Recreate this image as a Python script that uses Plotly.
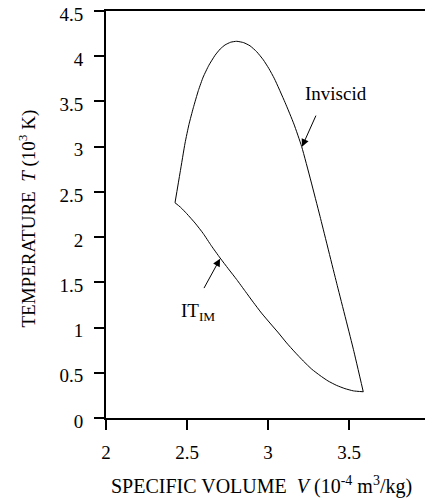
import plotly.graph_objects as go

# Inviscid curve (upper branch), V in 1e-4 m^3/kg, T in 1e3 K
inviscid_v = [2.426, 2.457, 2.488, 2.512, 2.539, 2.570, 2.600, 2.635, 2.673, 2.705,
              2.735, 2.770, 2.807, 2.850, 2.889, 2.930, 2.971, 3.005, 3.040, 3.105,
              3.160, 3.208, 3.265, 3.321, 3.424, 3.527, 3.588]
inviscid_t = [2.38, 2.71, 3.04, 3.245, 3.43, 3.62, 3.77, 3.90, 4.01, 4.08,
              4.125, 4.155, 4.165, 4.15, 4.115, 4.05, 3.96, 3.865, 3.75, 3.49,
              3.25, 3.00, 2.62, 2.23, 1.49, 0.76, 0.29]

# IT_IM curve (lower branch)
itim_v = [2.426, 2.460, 2.498, 2.550, 2.600, 2.650, 2.704, 2.755, 2.807, 2.860,
          2.909, 2.960, 3.012, 3.065, 3.115, 3.165, 3.218, 3.270, 3.321, 3.370,
          3.424, 3.475, 3.527, 3.588]
itim_t = [2.38, 2.33, 2.26, 2.155, 2.04, 1.905, 1.77, 1.65, 1.53, 1.40,
          1.28, 1.16, 1.05, 0.94, 0.83, 0.73, 0.63, 0.54, 0.47, 0.41,
          0.36, 0.325, 0.30, 0.29]

x_ticks = [2, 2.5, 3, 3.5, 4]
x_tick_labels = ["2", "2.5", "3", "3.5", "4"]
y_ticks = [0, 0.5, 1, 1.5, 2, 2.5, 3, 3.5, 4, 4.5]
y_tick_labels = ["0", "0.5", "1", "1.5", "2", "2.5", "3", "3.5", "4", "4.5"]

FONT = "Liberation Serif, Times New Roman, serif"

fig = go.Figure()
fig.add_trace(go.Scatter(x=inviscid_v, y=inviscid_t, mode="lines",
                         line=dict(color="black", width=1, shape="spline", smoothing=0.5),
                         showlegend=False, hoverinfo="skip"))
fig.add_trace(go.Scatter(x=itim_v, y=itim_t, mode="lines",
                         line=dict(color="black", width=1, shape="spline", smoothing=0.5),
                         showlegend=False, hoverinfo="skip"))

# Labels and arrows
fig.add_annotation(x=3.42, y=3.59, text="Inviscid", showarrow=False,
                   font=dict(family=FONT, size=19, color="black"))
fig.add_annotation(x=3.21, y=3.0, ax=3.30, ay=3.36, axref="x", ayref="y",
                   text="", showarrow=True, arrowhead=2, arrowsize=1.5,
                   arrowwidth=1, arrowcolor="black")
fig.add_annotation(x=2.57, y=1.17, text="IT<sub>IM</sub>", showarrow=False,
                   font=dict(family=FONT, size=19, color="black"))
fig.add_annotation(x=2.704, y=1.76, ax=2.60, ay=1.42, axref="x", ayref="y",
                   text="", showarrow=True, arrowhead=2, arrowsize=1.5,
                   arrowwidth=1, arrowcolor="black")

# Axis titles
fig.add_annotation(xref="paper", yref="paper", x=0.48, y=-0.165, yanchor="middle",
                   text="SPECIFIC VOLUME\u00a0\u00a0<i>V</i>\u00a0(10<sup>-4</sup> m<sup>3</sup>/kg)",
                   showarrow=False, font=dict(family=FONT, size=20, color="black"))
fig.add_annotation(xref="paper", yref="paper", x=-0.241, y=0.49, xanchor="center",
                   textangle=-90,
                   text="TEMPERATURE\u00a0\u00a0<i>T</i>\u00a0(10<sup>3</sup> K)",
                   showarrow=False, font=dict(family=FONT, size=19, color="black"))

axis_common = dict(showgrid=False, zeroline=False, showline=True, linecolor="black",
                   linewidth=2, mirror=True, ticks="outside", ticklen=10, tickwidth=1.5,
                   tickcolor="black", ticklabeloverflow="allow", automargin=False,
                   tickfont=dict(family=FONT, size=19, color="black"))

fig.update_xaxes(range=[2, 4], tickvals=x_ticks, ticktext=x_tick_labels,
                 ticklabelstandoff=6, **axis_common)
fig.update_yaxes(range=[0, 4.5], tickvals=y_ticks, ticktext=y_tick_labels,
                 ticklabelstandoff=7, ticklabelshift=3, **axis_common)

# page body has an 8px margin, so the figure is sized to fit the 433x500 window
fig.update_layout(width=425, height=492,
                  margin=dict(l=98, r=3, t=3, b=82),
                  plot_bgcolor="white", paper_bgcolor="white",
                  font=dict(family=FONT, color="black"))

fig.write_html("out.html")
